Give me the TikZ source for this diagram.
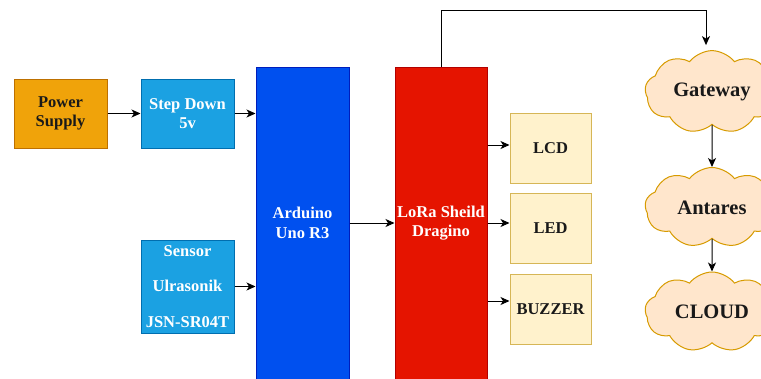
\documentclass[tikz,border=0pt]{standalone}
\usepackage{fontspec}
\setmainfont{Liberation Serif}
\usetikzlibrary{arrows.meta,shapes.symbols}
\definecolor{orfill}{HTML}{F0A30A}\definecolor{ordraw}{HTML}{BD7000}
\definecolor{cyfill}{HTML}{1BA1E2}\definecolor{cydraw}{HTML}{006EAF}
\definecolor{blfill}{HTML}{0050EF}\definecolor{bldraw}{HTML}{001DBC}
\definecolor{rdfill}{HTML}{E51400}\definecolor{rddraw}{HTML}{B20000}
\definecolor{ylfill}{HTML}{FFF2CC}\definecolor{yldraw}{HTML}{D6B656}
\definecolor{clfill}{HTML}{FFE6CC}\definecolor{cldraw}{HTML}{D79B00}
\tikzset{
  box/.style={draw, line width=1pt, inner sep=0pt, align=center,
    font=\bfseries\fontsize{16.5}{19.5}\selectfont},
  orbox/.style={box, fill=orfill, draw=ordraw, text=black!90},
  cybox/.style={box, fill=cyfill, draw=cydraw, text=white},
  blbox/.style={box, fill=blfill, draw=bldraw, text=white},
  rdbox/.style={box, fill=rdfill, draw=rddraw, text=white},
  ylbox/.style={box, fill=ylfill, draw=yldraw, text=black!90, minimum width=81pt, minimum height=70pt},
  cld/.style={cloud, cloud puffs=9, cloud puff arc=105, aspect=1.6, draw=cldraw, fill=clfill,
    line width=1pt, minimum width=134pt, minimum height=80pt, inner sep=0pt,
    font=\bfseries\fontsize{20.5}{24}\selectfont, text=black!90},
  arr/.style={-{Stealth[length=9pt,width=8pt,inset=2.5pt]}, line width=1pt, black}
}
\begin{document}
\begin{tikzpicture}[x=1pt,y=-1pt]
\useasboundingbox (0,0) rectangle (761,378);
\clip (0,0) rectangle (761,378);
\node[orbox, minimum width=93pt, minimum height=69pt] (ps) at (60.5,113.5) {Power\\Supply};
\node[cybox, minimum width=93pt, minimum height=69pt] (sd) at (187.5,113.5) {Step Down\\5v};
\node[cybox, minimum width=93pt, minimum height=93pt, font=\bfseries\fontsize{16.5}{35.5}\selectfont] (sn) at (187.5,286.5) {Sensor\\Ulrasonik\\JSN-SR04T};
\node[blbox, minimum width=93pt, minimum height=312pt] (ard) at (302.5,223) {Arduino\\Uno R3};
\node[rdbox, minimum width=92pt, minimum height=312pt] (lora) at (441,223) {LoRa Sheild\\Dragino};
\node[ylbox] (lcd) at (550.5,148) {LCD};
\node[ylbox] (led) at (550.5,228.5) {LED};
\node[ylbox] (buz) at (550.5,309.5) {BUZZER};
\node[cld] (gw) at (712,92) {Gateway};
\node[cld] (ant) at (712,207.5) {Antares};
\node[cld] (cl) at (712,312) {CLOUD};
\draw[arr] (ps) -- (sd);
\draw[arr] (sd.east) -- (sd.east -| ard.west);
\draw[arr] (sn.east) -- (sn.east -| ard.west);
\draw[arr] (ard.east) -- (ard.east -| lora.west);
\path ([yshift=3pt]lcd.west) coordinate (lcdin);
\path ([yshift=5.5pt]led.west) coordinate (ledin);
\path ([yshift=8.5pt]buz.west) coordinate (buzin);
\draw[arr] (lora.east |- lcdin) -- (lcdin);
\draw[arr] (lora.east |- ledin) -- (ledin);
\draw[arr] (lora.east |- buzin) -- (buzin);
\coordinate (tc) at (706,10);
\draw[arr] (lora.north) |- (tc) -- ([yshift=5pt]tc |- gw.north);
\draw[arr] (gw.south) -- (ant.north);
\draw[arr] (ant.south) -- (cl.north);
\end{tikzpicture}
\end{document}
